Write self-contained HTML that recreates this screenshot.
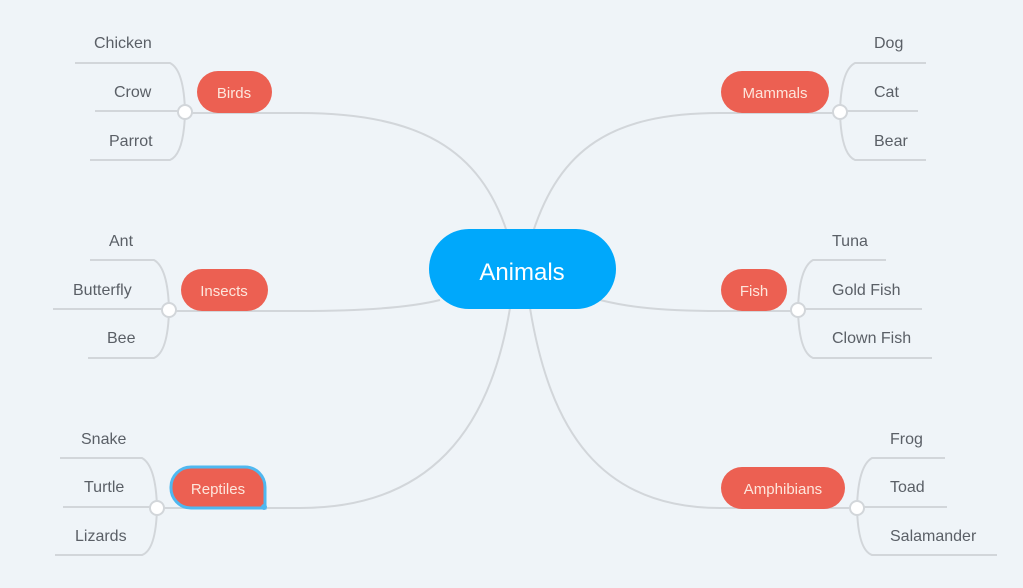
<!DOCTYPE html>
<html><head><meta charset="utf-8"><style>
html,body{margin:0;padding:0;background:#eff4f8;}
svg{display:block}
.l{fill:none;stroke:#d2d6da;stroke-width:2}
.t{font-family:"Liberation Sans",sans-serif;font-size:16px;fill:#5a5f66}
.p{font-family:"Liberation Sans",sans-serif;font-size:15px;fill:#fde6dc;text-anchor:middle}
.pill{fill:#ec6052}
.c{fill:#fff;stroke:#d2d6da;stroke-width:2}
</style></head><body>
<svg width="1023" height="588" viewBox="0 0 1023 588">
<rect width="1023" height="588" fill="#eff4f8"/>
<!-- main connectors -->
<path class="l" d="M185 113 L300 113 C420 113 480 150 507 232"/>
<path class="l" d="M840 113 L720 113 C610 113 560 150 533 232"/>
<path class="l" d="M169 311 L300 311 C380 311 420 305 440 300"/>
<path class="l" d="M798 311 L720 311 C650 311 620 305 600 300"/>
<path class="l" d="M157 508 L300 508 C430 508 490 430 510 308"/>
<path class="l" d="M857 508 L720 508 C600 508 550 430 530 308"/>
<!-- leaves left -->
<path class="l" d="M75 63 L170 63 Q184 70 185 112 Q184 154 170 160 L90 160 M95 111 L185 111"/>
<path class="l" d="M90 260 L154 260 Q168 268 169 310 Q168 352 154 358 L88 358 M53 309 L169 309"/>
<path class="l" d="M60 458 L142 458 Q156 466 157 508 Q156 550 142 555 L55 555 M63 507 L157 507"/>
<!-- leaves right -->
<path class="l" d="M926 63 L855 63 Q841 70 840 112 Q841 154 855 160 L926 160 M918 111 L840 111"/>
<path class="l" d="M886 260 L813 260 Q799 268 798 310 Q799 352 813 358 L932 358 M922 309 L798 309"/>
<path class="l" d="M945 458 L872 458 Q858 466 857 508 Q858 550 872 555 L997 555 M947 507 L857 507"/>
<!-- center -->
<rect x="429" y="229" width="187" height="80" rx="40" fill="#00a8fb"/>
<text x="522" y="280" font-family="Liberation Sans,sans-serif" font-size="24" fill="#fff" text-anchor="middle">Animals</text>
<!-- pills -->
<rect class="pill" x="197" y="71" width="75" height="42" rx="21"/><text class="p" x="234" y="98">Birds</text>
<rect class="pill" x="721" y="71" width="108" height="42" rx="21"/><text class="p" x="775" y="98">Mammals</text>
<rect class="pill" x="181" y="269" width="87" height="42" rx="21"/><text class="p" x="224" y="296">Insects</text>
<rect class="pill" x="721" y="269" width="66" height="42" rx="21"/><text class="p" x="754" y="296">Fish</text>
<path d="M171 487 a20 20 0 0 1 20 -20 h54 a20 20 0 0 1 20 20 v21 h-74 a20 20 0 0 1 -20 -21z" fill="#ec6052" stroke="#4fb8f0" stroke-width="3"/>
<circle cx="264" cy="507" r="3" fill="#4fb8f0"/>
<text class="p" x="218" y="494">Reptiles</text>
<rect class="pill" x="721" y="467" width="124" height="42" rx="21"/><text class="p" x="783" y="494">Amphibians</text>
<!-- circles -->
<circle class="c" cx="185" cy="112" r="7"/>
<circle class="c" cx="840" cy="112" r="7"/>
<circle class="c" cx="169" cy="310" r="7"/>
<circle class="c" cx="798" cy="310" r="7"/>
<circle class="c" cx="157" cy="508" r="7"/>
<circle class="c" cx="857" cy="508" r="7"/>
<!-- labels -->
<text class="t" x="94" y="48">Chicken</text>
<text class="t" x="114" y="97">Crow</text>
<text class="t" x="109" y="146">Parrot</text>
<text class="t" x="874" y="48">Dog</text>
<text class="t" x="874" y="97">Cat</text>
<text class="t" x="874" y="146">Bear</text>
<text class="t" x="109" y="246">Ant</text>
<text class="t" x="73" y="295">Butterfly</text>
<text class="t" x="107" y="343">Bee</text>
<text class="t" x="832" y="246">Tuna</text>
<text class="t" x="832" y="295">Gold Fish</text>
<text class="t" x="832" y="343">Clown Fish</text>
<text class="t" x="81" y="444">Snake</text>
<text class="t" x="84" y="492">Turtle</text>
<text class="t" x="75" y="541">Lizards</text>
<text class="t" x="890" y="444">Frog</text>
<text class="t" x="890" y="492">Toad</text>
<text class="t" x="890" y="541">Salamander</text>
</svg>
</body></html>
